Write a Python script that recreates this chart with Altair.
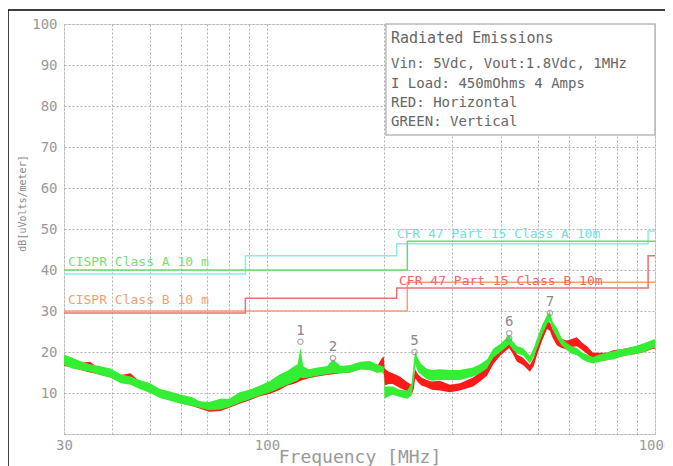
import altair as alt
import pandas as pd

# ---------------- data ----------------
freq = [30, 31.5, 33, 35, 37, 39.5, 42, 44.5, 47, 50, 53, 56, 60, 64, 67, 71, 76, 80, 85, 90,
        96, 102, 108, 113, 117, 120, 122, 124, 128, 135, 143, 148, 155, 164, 174, 184, 192, 198,
        200, 201, 206, 211, 220, 230, 236, 239, 241, 245, 250, 258, 266, 279, 296, 314, 340, 354,
        369, 383, 400, 421, 430, 441, 457, 476, 487, 497, 512, 527, 536, 545, 559, 575, 593, 610,
        629, 650, 668, 692, 720, 752, 780, 812, 850, 899, 940, 988, 1000]
red_lo = [16.6, 16.3, 15.6, 15.0, 14.5, 13.8, 12.6, 12.2, 11.2, 10.2, 9.0, 8.3, 7.5, 6.8, 6.2, 5.4, 5.6, 6.4, 7.4, 8.2,
          9.2, 9.8, 10.8, 11.8, 12.2, 12.6, 13.0, 13.2, 13.6, 14.0, 14.4, 14.6, 14.8, 15.0, 15.8, 15.8, 15.0, 15.2,
          15.2, 11.8, 12.2, 12.2, 11.2, 10.4, 9.6, 11.0, 13.6, 12.6, 11.8, 11.4, 10.8, 10.6, 10.2, 10.6, 11.6, 12.8,
          14.2, 17.0, 19.2, 21.0, 19.6, 17.6, 16.8, 15.2, 16.6, 19.4, 22.8, 25.6, 25.2, 23.4, 21.6, 21.0, 20.6, 21.2,
          21.4, 20.4, 19.6, 18.2, 17.8, 18.0, 18.4, 18.8, 19.2, 19.6, 20.0, 20.8, 20.8]
red_hi = [18.6, 18.0, 17.4, 17.6, 16.0, 15.6, 14.4, 14.8, 12.8, 12.2, 10.8, 10.0, 9.4, 8.2, 8.0, 7.2, 7.4, 8.0, 9.2, 9.8,
          10.8, 11.6, 12.4, 13.2, 13.6, 14.2, 14.6, 14.4, 14.8, 15.2, 15.6, 15.8, 16.0, 16.2, 17.0, 17.2, 16.4, 18.6,
          18.9, 16.0, 15.2, 14.8, 14.0, 12.6, 12.0, 14.0, 15.8, 14.6, 13.8, 13.2, 12.8, 13.0, 12.0, 12.4, 13.8, 15.0,
          16.2, 19.4, 21.2, 23.0, 21.6, 19.4, 18.6, 16.8, 18.6, 21.6, 25.0, 27.6, 27.2, 25.6, 24.0, 23.2, 22.8, 23.2,
          23.6, 22.2, 21.4, 19.8, 19.8, 19.8, 20.4, 20.6, 21.0, 21.4, 22.0, 22.6, 22.8]
green_lo = [16.8, 16.0, 15.6, 15.2, 14.4, 13.8, 12.4, 12.0, 11.0, 10.0, 8.8, 8.2, 7.4, 6.8, 6.4, 5.8, 6.0, 6.6, 7.6, 8.4,
            9.4, 10.2, 11.2, 12.0, 12.6, 13.0, 13.8, 13.6, 13.8, 14.2, 14.6, 14.8, 14.8, 15.0, 15.8, 15.6, 15.0, 15.0,
            14.6, 8.6, 9.2, 9.6, 9.0, 8.6, 9.4, 13.0, 17.0, 15.2, 14.4, 13.4, 13.0, 13.2, 13.2, 13.2, 14.0, 14.8,
            16.0, 18.6, 20.0, 21.8, 20.6, 19.6, 19.2, 17.2, 18.8, 21.0, 24.2, 26.8, 27.6, 25.4, 23.4, 21.6, 20.4, 19.6,
            19.2, 18.2, 17.6, 17.2, 17.6, 18.0, 18.2, 18.8, 19.2, 19.6, 20.0, 21.0, 21.0]
green_hi = [19.4, 18.6, 17.8, 17.0, 16.6, 16.0, 14.6, 14.0, 13.2, 12.4, 11.0, 10.4, 9.6, 9.0, 8.0, 7.8, 8.6, 8.6, 10.2, 10.8,
            11.8, 13.0, 14.6, 15.4, 16.4, 17.0, 21.0, 16.5, 15.8, 16.2, 16.6, 18.2, 16.6, 16.8, 17.6, 17.8, 17.0, 16.6,
            16.4, 11.6, 11.6, 11.6, 10.8, 10.6, 12.4, 17.5, 20.2, 18.4, 17.0, 16.0, 15.6, 15.8, 15.6, 15.6, 16.2, 17.0,
            18.2, 20.8, 22.0, 24.0, 22.6, 21.4, 21.0, 19.0, 21.0, 23.4, 26.6, 29.0, 29.8, 27.4, 25.8, 23.4, 22.2, 21.4,
            21.0, 19.8, 19.4, 18.8, 19.4, 19.8, 20.2, 20.6, 21.0, 21.6, 22.2, 23.0, 23.2]

# limit lines (step-after)
lim_freq_fcc = [30, 88, 216, 960, 1000]
cfr_a = [39.0, 43.5, 46.4, 49.5, 49.5]
cfr_b = [29.5, 33.1, 35.6, 43.5, 43.5]
lim_freq_cispr = [30, 230, 1000]
cispr_a = [40.0, 47.0, 47.0]
cispr_b = [30.0, 37.0, 37.0]

# limit labels
lim_label_text = ["CISPR Class A 10 m", "CISPR Class B 10 m",
                  "CFR 47 Part 15  Class A 10m", "CFR 47 Part 15  Class B 10m"]
lim_label_f = [30.7, 30.7, 216, 219]
lim_label_v = [42.0, 32.7, 48.8, 37.3]
lim_label_color = ["#77dd77", "#f2a070", "#70e0e0", "#ee6666"]

# markers
mk_f = [122, 148, 240, 421, 421, 536]
mk_v = [22.5, 18.5, 20.0, 24.6, 23.3, 29.5]
mk_lab = ["1", "2", "5", "6", "", "7"]

# annotation box
box_lines = ["Radiated Emissions", "Vin: 5Vdc, Vout:1.8Vdc, 1MHz", "I Load: 450mOhms 4 Amps",
             "RED: Horizontal", "GREEN: Vertical"]
box_line_v = [96.6, 90.2, 85.4, 80.7, 76.1]
box_f = [202.6, 1000]
box_v = [72.9, 100]

# ---------------- chart ----------------
FONT = "DejaVu Sans Mono"
xs = alt.Scale(type="log", domain=[30, 1000], nice=False)
ys = alt.Scale(domain=[0, 100], nice=False)

grid_x = [30, 40, 50, 60, 70, 80, 90, 100, 200, 300, 400, 500, 600, 700, 800, 900, 1000]

trace = pd.DataFrame({"f": freq, "rlo": red_lo, "rhi": red_hi, "glo": green_lo, "ghi": green_hi})

x_axis = alt.Axis(values=grid_x,
                  labelExpr="(datum.value==30||datum.value==100||datum.value==1000) ? datum.value + '' : ''",
                  grid=True, gridDash=[2, 2], gridColor="#b0b0b0", ticks=False, domain=False,
                  labelColor="#999999", labelFont=FONT, labelFontSize=14, labelPadding=4,
                  title="Frequency [MHz]", titleFont=FONT, titleFontSize=18, titleFontWeight="normal",
                  titleColor="#999999", titleY=23, titleBaseline="middle", labelFlush=False,
                  labelOverlap=False)
y_axis = alt.Axis(values=list(range(0, 101, 10)),
                  labelExpr="datum.value==0 ? '' : datum.label",
                  grid=True, gridDash=[2, 2], gridColor="#b0b0b0", ticks=False, domain=False,
                  labelColor="#999999", labelFont=FONT, labelFontSize=14, labelPadding=7,
                  title="dB[uVolts/meter]", titleFont=FONT, titleFontSize=10, titleFontWeight="normal",
                  titleColor="#888888", titleX=-42, titleY=179, titleBaseline="middle",
                  labelOverlap=False)

# axis-carrying layer first
red_area = alt.Chart(trace).mark_area(color="#ff1a1a", opacity=1).encode(
    x=alt.X("f:Q", scale=xs, axis=x_axis),
    y=alt.Y("rlo:Q", scale=ys, axis=y_axis),
    y2="rhi:Q",
)
green_area = alt.Chart(trace).mark_area(color="#33ee33", opacity=1).encode(
    x=alt.X("f:Q", scale=xs),
    y=alt.Y("glo:Q", scale=ys),
    y2="ghi:Q",
)


def step_line(fr, vals, color):
    d = pd.DataFrame({"f": fr, "v": vals})
    return alt.Chart(d).mark_line(interpolate="step-after", color=color, strokeWidth=1.5).encode(
        x=alt.X("f:Q", scale=xs),
        y=alt.Y("v:Q", scale=ys),
    )


lines = [
    step_line(lim_freq_cispr, cispr_b, "#f5a070"),
    step_line(lim_freq_fcc, cfr_b, "#f07070"),
    step_line(lim_freq_fcc, cfr_a, "#88eaea"),
    step_line(lim_freq_cispr, cispr_a, "#66dd66"),
]

lab_df = pd.DataFrame({"f": lim_label_f, "v": lim_label_v, "t": lim_label_text, "c": lim_label_color})
lim_labels = alt.Chart(lab_df).mark_text(align="left", baseline="middle", font=FONT, fontSize=13).encode(
    x=alt.X("f:Q", scale=xs),
    y=alt.Y("v:Q", scale=ys),
    text="t:N",
    color=alt.Color("c:N", scale=None),
)

mk_df = pd.DataFrame({"f": mk_f, "v": mk_v, "t": mk_lab})
mk_points = alt.Chart(mk_df).mark_point(shape="circle", size=28, filled=False, color="#888888",
                                        strokeWidth=1.2).encode(
    x=alt.X("f:Q", scale=xs),
    y=alt.Y("v:Q", scale=ys),
)
mk_text = alt.Chart(mk_df).mark_text(dy=-11, font=FONT, fontSize=14, color="#888888").encode(
    x=alt.X("f:Q", scale=xs),
    y=alt.Y("v:Q", scale=ys),
    text="t:N",
)

box_df = pd.DataFrame({"f": [box_f[0]], "f2": [box_f[1]], "v": [box_v[0]], "v2": [box_v[1]]})
box = alt.Chart(box_df).mark_rect(fill="white", stroke="#bbbbbb", strokeWidth=1.5).encode(
    x=alt.X("f:Q", scale=xs), x2="f2:Q",
    y=alt.Y("v:Q", scale=ys), y2="v2:Q",
)
bl_df = pd.DataFrame({"t": box_lines, "v": box_line_v, "f": [208.8] * len(box_lines),
                      "s": [15, 14, 14, 14, 14]})
box_text = alt.Chart(bl_df).mark_text(align="left", baseline="middle", font=FONT, color="#666666").encode(
    x=alt.X("f:Q", scale=xs),
    y=alt.Y("v:Q", scale=ys),
    text="t:N",
    size=alt.Size("s:Q", scale=None, legend=None),
)

frame = alt.Chart(pd.DataFrame({"k": [0]})).mark_rect(fill="transparent", stroke="black", strokeWidth=1.5).encode(
    x=alt.value(-56), x2=alt.value(606), y=alt.value(-14), y2=alt.value(470)
)

chart = alt.layer(
    red_area, green_area, *lines, lim_labels, mk_points, mk_text, box, box_text, frame
).properties(
    width=591, height=410, autosize="none",
    padding={"left": 56, "top": 16, "right": 10, "bottom": 34},
).configure_view(stroke="#b8b8b8", strokeWidth=1.5).configure(background="white")

chart.save("out.html", embed_options={"renderer": "svg", "actions": False})
